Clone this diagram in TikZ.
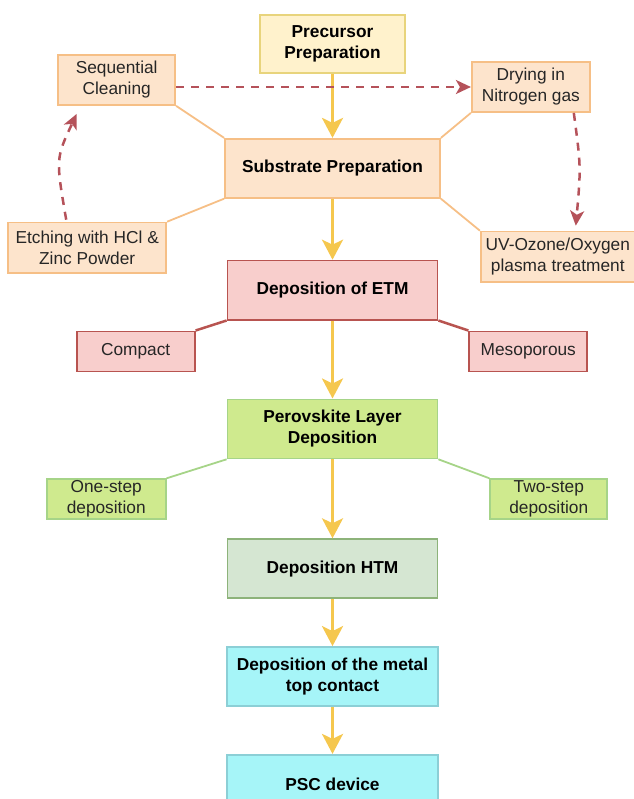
\documentclass[tikz,border=0pt]{standalone}
\usepackage{fontspec}
\setmainfont{Liberation Sans}
\usetikzlibrary{arrows.meta}
\usetikzlibrary{positioning}

\definecolor{precfill}{HTML}{FFF2CC}
\definecolor{precline}{HTML}{E8D47C}
\definecolor{subfill}{HTML}{FDE4CC}
\definecolor{subline}{HTML}{F6BF86}
\definecolor{etmfill}{HTML}{F8CECC}
\definecolor{etmline}{HTML}{B85450}
\definecolor{perfill}{HTML}{CFEA8E}
\definecolor{perline}{HTML}{A6D488}
\definecolor{htmfill}{HTML}{D5E6D2}
\definecolor{htmline}{HTML}{8DB37A}
\definecolor{topfill}{HTML}{A6F5F8}
\definecolor{topline}{HTML}{8CCFD6}
\definecolor{flowcol}{HTML}{F5C74E}
\definecolor{dashcol}{HTML}{B5525A}

\begin{document}
\begin{tikzpicture}[
    x=1pt, y=1pt,
    font=\fontsize{17.3}{21}\selectfont,
    box/.style={draw, line width=1.8pt, align=center, inner sep=0pt},
    mainbox/.style={box, font=\fontsize{17.3}{21}\selectfont\bfseries, minimum width=210pt, minimum height=59pt},
    sidebox/.style={box, text=black!85, minimum width=118pt, minimum height=40pt},
    flow/.style={draw=flowcol, line width=3pt, -{Stealth[length=20pt, width=21pt, inset=5pt]}},
    dasharrow/.style={draw=dashcol, line width=2.5pt, dash pattern=on 8pt off 7pt, -{Stealth[length=15pt, width=14pt, inset=4pt]}},
    tie/.style={line width=1.8pt},
  ]
  \useasboundingbox (0,0) rectangle (633,-799);

  % main column
  \node (prec) [mainbox, fill=precfill, draw=precline, minimum width=145pt, minimum height=58pt] at (332.5,-44) {Precursor\\Preparation};
  \node (sub) [mainbox, fill=subfill, draw=subline, minimum width=215pt, below=64pt of prec] {Substrate Preparation};
  \node (etm) [mainbox, fill=etmfill, draw=etmline, below=61pt of sub] {Deposition of ETM};
  \node (perov) [mainbox, fill=perfill, draw=perline, below=78pt of etm] {Perovskite Layer\\Deposition};
  \node (htm) [mainbox, fill=htmfill, draw=htmline, below=79pt of perov] {Deposition HTM};
  \node (metal) [mainbox, fill=topfill, draw=topline, minimum width=211pt, below=47pt of htm] {Deposition of the metal\\top contact};
  \node (psc) [mainbox, fill=topfill, draw=topline, minimum width=211pt, below=47pt of metal] {PSC device};

  % substrate steps
  \node (seq) [sidebox, fill=subfill, draw=subline, minimum width=117pt, minimum height=50pt, above left=32pt and 48pt of sub.north west] {Sequential\\Cleaning};
  \node (dry) [sidebox, fill=subfill, draw=subline, minimum height=50pt, above right=25pt and 30pt of sub.north east] {Drying in\\Nitrogen gas};
  \node (etch) [sidebox, fill=subfill, draw=subline, minimum width=158pt, minimum height=50pt, below left=23pt and 57pt of sub.south west] {Etching with HCl \&\\Zinc Powder};
  \node (uv) [sidebox, fill=subfill, draw=subline, minimum width=154pt, minimum height=50pt, below right=32pt and 39pt of sub.south east] {UV-Ozone/Oxygen\\plasma treatment};

  % layer options
  \node (compact) [sidebox, fill=etmfill, draw=etmline, below left=10pt and 31pt of etm.south west] {Compact};
  \node (meso) [sidebox, fill=etmfill, draw=etmline, below right=10pt and 30pt of etm.south east] {Mesoporous};
  \node (one) [sidebox, fill=perfill, draw=perline, minimum width=119pt, below left=19pt and 60pt of perov.south west] {One-step\\deposition};
  \node (two) [sidebox, fill=perfill, draw=perline, minimum width=117pt, below right=19pt and 51pt of perov.south east] {Two-step\\deposition};

  \draw[flow] (prec) -- (sub);
  \draw[flow] (sub) -- (etm);
  \draw[flow] (etm) -- (perov);
  \draw[flow] (perov) -- (htm);
  \draw[flow] (htm) -- (metal);
  \draw[flow] (metal) -- (psc);

  \draw[tie, subline] (seq.south east) -- (sub.north west);
  \draw[tie, subline] (dry.south west) -- (sub.north east);
  \draw[tie, subline] (etch.north east) -- (sub.south west);
  \draw[tie, subline] (uv.north west) -- (sub.south east);
  \draw[tie, etmline, line width=2.5pt] (compact.north east) -- (etm.south west);
  \draw[tie, etmline, line width=2.5pt] (meso.north west) -- (etm.south east);
  \draw[tie, perline] (one.north east) -- (perov.south west);
  \draw[tie, perline] (two.north west) -- (perov.south east);

  % cleaning cycle
  \draw[dasharrow] (seq.east |- dry.west) -- (dry.west);
  \draw[dasharrow] ([xshift=43pt]dry.south) .. controls (581,-167) .. ([xshift=18pt,yshift=5pt]uv.north);
  \draw[dasharrow] ([xshift=-21pt,yshift=2pt]etch.north) .. controls (55.7,-158.5) .. ([xshift=-40pt,yshift=-8pt]seq.south);
\end{tikzpicture}
\end{document}
